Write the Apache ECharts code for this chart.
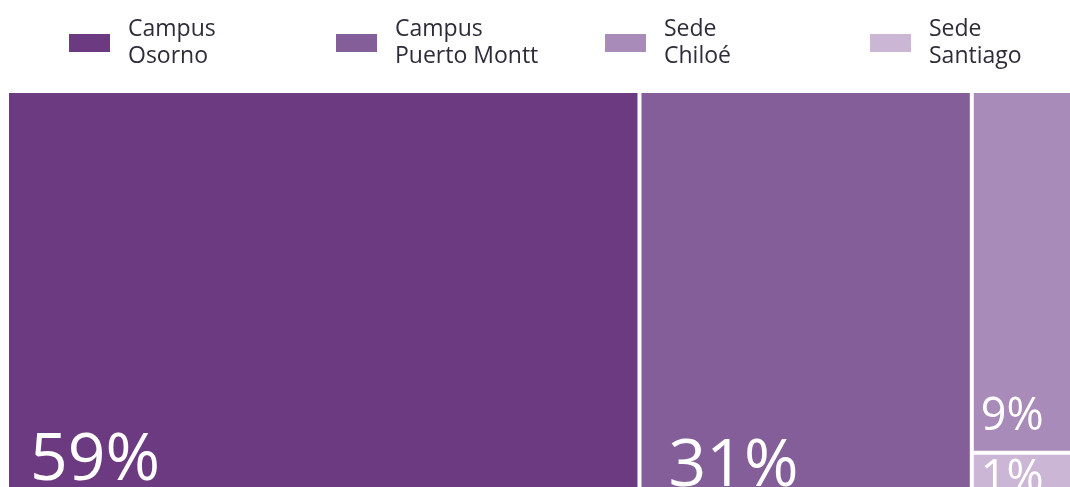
<!DOCTYPE html>
<html>
<head>
<meta charset="utf-8">
<script src="https://cdn.jsdelivr.net/npm/echarts@6/dist/echarts.min.js"></script>
<style>
  html, body { margin: 0; padding: 0; background: #fff; }
  #chart { width: 1070px; height: 487px; }
</style>
</head>
<body>
<div id="chart"></div>
<script>
// datos
const categories = ['Campus Osorno', 'Campus Puerto Montt', 'Sede Chiloé', 'Sede Santiago'];
const values = [59, 31, 9, 1];
const colors = ['#6c3a80', '#835e98', '#a98bb9', '#cbb6d6'];
// estilo de etiquetas (tamaño / desplazamiento)
const labelSizes = [66, 66, 45, 45];
const labelLineHeights = [80, 80, 54, 54];
const labelOffsets = [[17, 14], [23, 20], [3, -3], [3, 19]];
const labelPadTop = [0, 0, 0, -40];
const legendLeft = [69, 336, 605, 870];

const chart = echarts.init(document.getElementById('chart'));

const treeData = categories.map(function (name, i) {
  return {
    name: name,
    value: values[i],
    itemStyle: { color: colors[i] },
    label: {
      fontSize: labelSizes[i],
      lineHeight: labelLineHeights[i],
      offset: labelOffsets[i],
      padding: [labelPadTop[i], 0, 0, 0]
    }
  };
});

const legends = categories.map(function (name, i) {
  return {
    left: legendLeft[i],
    top: 16,
    padding: 0,
    itemWidth: 41,
    itemHeight: 18,
    selectedMode: false,
    icon: 'rect',
    data: [name],
    formatter: function (n) { return n.replace(' ', '\n'); },
    textStyle: {
      fontFamily: 'Open Sans',
      fontSize: 23,
      lineHeight: 27,
      color: '#2f2c3a',
      padding: [0, 0, 0, 13]
    }
  };
});

const option = {
  animation: false,
  legend: legends,
  series: [
    {
      type: 'treemap',
      left: 9,
      top: 93,
      width: 1068,
      height: 398,
      roam: false,
      nodeClick: false,
      breadcrumb: { show: false },
      levels: [
        { itemStyle: { borderWidth: 0, gapWidth: 4, borderColor: '#fff' } }
      ],
      label: {
        show: true,
        position: 'insideBottomLeft',
        distance: 4,
        color: '#fff',
        fontFamily: 'Open Sans',
        formatter: '{c}%'
      },
      data: treeData
    },
    {
      // serie auxiliar solo para la leyenda
      type: 'pie',
      radius: 0,
      center: [-100, -100],
      silent: true,
      label: { show: false },
      data: categories.map(function (name, i) {
        return { name: name, value: values[i], itemStyle: { color: colors[i] } };
      })
    }
  ]
};

chart.setOption(option);
</script>
</body>
</html>
